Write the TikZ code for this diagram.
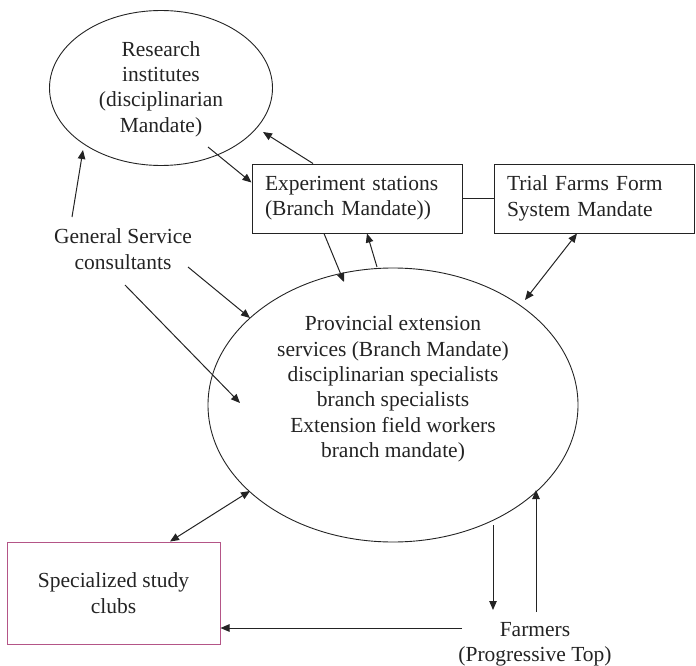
\documentclass[tikz,border=0pt]{standalone}
\usepackage{fontspec}
\setmainfont{Liberation Serif}
\usetikzlibrary{arrows.meta,shapes.geometric}
\definecolor{clubcol}{RGB}{180,85,135}
\definecolor{ink}{RGB}{35,35,35}
\begin{document}
\begin{tikzpicture}[x=1pt,y=-1pt,
  txtfont/.style={font=\fontsize{21.5}{25.3}\selectfont},
  txt/.style={txtfont, align=center, inner sep=0pt, text=ink},
  oval/.style={draw=ink, line width=0.9pt, ellipse, inner sep=0pt},
  boxnode/.style={draw=ink, line width=1pt, rectangle, minimum height=69pt,
    inner ysep=0pt, inner xsep=13pt, txtfont, align=left, text=ink},
  tip/.tip={Triangle[length=9pt,width=7.5pt]},
  arr/.style={-tip, line width=1pt, draw=ink},
  darr/.style={tip-tip, line width=1pt, draw=ink}
]
\useasboundingbox (0,0) rectangle (696,666);

% nodes
\node[oval, minimum width=223pt, minimum height=155pt] (res) at (161,88) {};
\node[txt] (restext) at (161,89) {Research\\institutes\\(disciplinarian\\Mandate)};

\node[boxnode, text width=184pt] (exp) at (357,198.5)
  {Experiment stations\\(Branch Mandate))};
\node[boxnode, text width=174pt] (trial) at (594,198.5)
  {Trial Farms Form\\System Mandate};

\node[txt] (gen) at (123,249) {General Service\\consultants};

\node[oval, minimum width=370pt, minimum height=274pt] (prov) at (393,405) {};
\node[txt] (provtext) at (393,389) {Provincial extension\\services (Branch Mandate)\\disciplinarian specialists\\branch specialists\\Extension field workers\\branch mandate)};

\node[draw=clubcol, line width=1pt, rectangle, minimum width=213pt,
  minimum height=102pt, txt] (clubs) at (113.5,593) {Specialized study\\clubs};

\node[txt] (farm) at (535,644) {Farmers\\(Progressive Top)};

% connectors
\draw[arr] ([shift={(47,59)}]res.center) -- ([shift={(0,-16)}]exp.west);
\draw[arr] ([shift={(-44,0)}]exp.north) -- ([shift={(102,44)}]res.center);
\draw[arr] ([shift={(-51,-32)}]gen.center) -- ([shift={(-78,62)}]res.center);
\draw[arr] ([shift={(65,18)}]gen.center) -- ([shift={(-143,-87)}]prov.center);
\draw[arr] ([shift={(2,36)}]gen.center) -- ([shift={(-153,-2)}]prov.center);
\draw[arr] ([shift={(-33,0)}]exp.south) -- ([shift={(-49,-123)}]prov.center);
\draw[arr] ([shift={(-16,-138)}]prov.center) -- ([shift={(10,0)}]exp.south);
\draw[line width=1pt, draw=ink] (exp.east) -- (trial.west);
\draw[darr] ([shift={(-17,0)}]trial.south) -- ([shift={(132,-105)}]prov.center);
\draw[darr] ([shift={(56.5,0)}]clubs.north) -- ([shift={(-143,86)}]prov.center);
\draw[arr] ([shift={(100,120)}]prov.center) -- ([shift={(-42,-34)}]farm.center);
\draw[arr] ([shift={(1,-32)}]farm.center) -- ([shift={(143,85)}]prov.center);
\draw[arr] ([shift={(-73,-16)}]farm.center) -- ([shift={(0,35)}]clubs.east);
\end{tikzpicture}
\end{document}
